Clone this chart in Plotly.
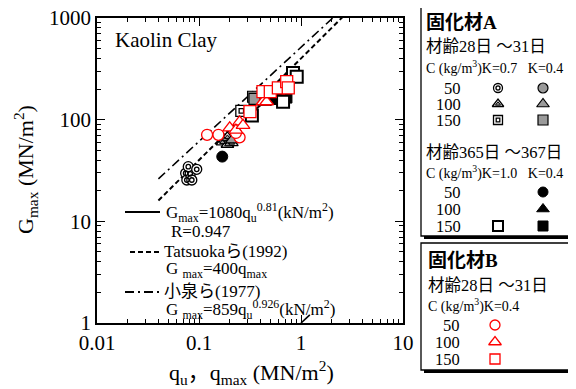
import numpy as np
import plotly.graph_objects as go

# ---------------- data ----------------
# 固化材A 材齢28日～31日, K=0.7
a28_k07_50_q = [0.074, 0.076, 0.082, 0.085, 0.0785, 0.095]
a28_k07_50_g = [29.7, 25.5, 29.3, 25.5, 34.5, 32.5]
a28_k07_100_q = [0.17, 0.18, 0.19, 0.20, 0.21, 0.19]
a28_k07_100_g = [60, 64, 57, 62, 59, 67]
a28_k07_150_q = [0.26]
a28_k07_150_g = [122]
# 固化材A 材齢28日～31日, K=0.4
a28_k04_50_q = [0.19]
a28_k04_50_g = [61]
a28_k04_100_q = [0.21]
a28_k04_100_g = [63]
a28_k04_150_q = [0.339, 0.35]
a28_k04_150_g = [168, 160]
# 固化材A 材齢365日～367日
a365_k10_150_q = [0.33, 0.667, 0.835, 0.908]
a365_k10_150_g = [110, 150, 288, 265]
a365_k04_50_q = [0.169]
a365_k04_50_g = [43.3]
a365_k04_100_q = [0.44, 0.50, 0.55]
a365_k04_100_g = [148, 152, 155]
a365_k04_150_q = [0.58, 0.65, 0.72, 0.70]
a365_k04_150_g = [160, 158, 165, 185]
# 固化材B 材齢28日～31日, K=0.4
b_50_q = [0.12, 0.155, 0.25, 0.23]
b_50_g = [71, 71, 67, 74]
b_100_q = [0.20, 0.25, 0.23, 0.424, 0.46, 0.27]
b_100_g = [83, 95, 79, 150, 150, 88]
b_150_q = [0.316, 0.424, 0.50, 0.60, 0.724, 0.75]
b_150_g = [120, 189, 189, 205, 237, 205]

# reference lines
fit_q = [0.30, 0.75]            # Gmax = 1080 qu^0.81 (kN/m2)
tatsuoka_q = [0.04, 3.0]        # Gmax = 400 qmax
koizumi_q = [0.04, 3.0]         # Gmax = 859 qu^0.926 (kN/m2)
mark_q = [1.0, 1.22]
mark_g = [1.0, 1.2]

x_ticks = [0.01, 0.1, 1, 10]
x_ticklabels = ["0.01", "0.1", "1", "10"]
y_ticks = [1, 10, 100, 1000]
y_ticklabels = ["1", "10", "100", "1000"]

SERIF = "Liberation Serif, Noto Sans CJK JP"
RED = "#ff0000"
GRAY = "#9a9a9a"

fig = go.Figure()

def fit(q):
    q = np.asarray(q)
    return 1080 * (q * 1000) ** 0.81 / 1000

def tats(q):
    return 400 * np.asarray(q)

def koiz(q):
    q = np.asarray(q)
    return 859 * (q * 1000) ** 0.926 / 1000

# lines
fig.add_trace(go.Scatter(x=fit_q, y=fit(fit_q), mode="lines",
                         line=dict(color="black", width=2)))
fig.add_trace(go.Scatter(x=tatsuoka_q, y=tats(tatsuoka_q), mode="lines",
                         line=dict(color="black", width=2, dash="5px,3px")))
fig.add_trace(go.Scatter(x=koizumi_q, y=koiz(koizumi_q), mode="lines",
                         line=dict(color="black", width=1.6, dash="9px,4px,2px,4px")))
fig.add_trace(go.Scatter(x=mark_q, y=mark_g, mode="lines",
                         line=dict(color="black", width=1.6)))

def pts(x, y, symbol, size, fill, lc, lw, xa="x", ya="y"):
    fig.add_trace(go.Scatter(x=x, y=y, mode="markers", xaxis=xa, yaxis=ya,
                             marker=dict(symbol=symbol, size=size, color=fill,
                                         line=dict(color=lc, width=lw))))

def double_circle(x, y, xa="x", ya="y", s=10):
    pts(x, y, "circle", s, "white", "black", 1.3, xa, ya)
    pts(x, y, "circle-open", s * 0.45, "black", "black", 1.3, xa, ya)

def double_tri(x, y, xa="x", ya="y", s=11):
    pts(x, y, "triangle-up", s, "white", "black", 1.3, xa, ya)
    pts(x, y, "triangle-up", s * 0.45, GRAY, "black", 1.0, xa, ya)

def double_sq(x, y, xa="x", ya="y", s=10):
    pts(x, y, "square", s, "white", "black", 1.3, xa, ya)
    pts(x, y, "square-open", s * 0.4, "black", "black", 1.3, xa, ya)

# data markers
double_circle(a28_k07_50_q, a28_k07_50_g)
pts(a28_k04_50_q, a28_k04_50_g, "circle", 10, GRAY, "black", 1.2)
double_tri(a28_k07_100_q, a28_k07_100_g)
pts(a28_k04_100_q, a28_k04_100_g, "triangle-up", 11, GRAY, "black", 1.2)
pts(a365_k04_50_q, a365_k04_50_g, "circle", 11, "black", "black", 1)
pts(a28_k04_150_q, a28_k04_150_g, "square", 11, GRAY, "black", 1.2)
pts(a365_k04_100_q, a365_k04_100_g, "triangle-up", 12, "black", "black", 1)
pts(a365_k04_150_q, a365_k04_150_g, "square", 11, "black", "black", 1)
pts(a365_k10_150_q, a365_k10_150_g, "square", 12, "white", "black", 2)
double_sq(a28_k07_150_q, a28_k07_150_g, s=11)
pts(b_50_q, b_50_g, "circle", 11, "white", RED, 1.3)
pts(b_100_q, b_100_g, "triangle-up", 12, "white", RED, 1.3)
pts(b_150_q, b_150_g, "square", 12, "white", RED, 1.3)

# ---------------- legend (screen-pixel coordinates on x2/y2) ----------------
C1, C2 = 498, 543
double_circle([C1], [88], "x2", "y2", 9)
pts([C2], [88], "circle", 10, GRAY, "black", 1.2, "x2", "y2")
double_tri([C1], [104], "x2", "y2", 10)
pts([C2], [104], "triangle-up", 11, GRAY, "black", 1.2, "x2", "y2")
double_sq([C1], [120], "x2", "y2", 9)
pts([C2], [120], "square", 10, GRAY, "black", 1.2, "x2", "y2")
pts([C2], [192], "circle", 10, "black", "black", 1, "x2", "y2")
pts([C2], [209], "triangle-up", 11, "black", "black", 1, "x2", "y2")
pts([C1], [226], "square", 10, "white", "black", 2, "x2", "y2")
pts([C2], [226], "square", 10, "black", "black", 1, "x2", "y2")
pts([495], [325], "circle", 10, "white", RED, 1.3, "x2", "y2")
pts([495], [342], "triangle-up", 11, "white", RED, 1.3, "x2", "y2")
pts([495], [359], "square", 10, "white", RED, 1.3, "x2", "y2")

shapes = []
for (x0, y0, x1, y1) in [(421, 5, 569, 236), (421, 243, 569, 370)]:
    shapes.append(dict(type="rect", xref="x2", yref="y2", x0=x0 + 3, y0=y0 + 3,
                       x1=x1 + 3, y1=y1 + 3, fillcolor="black",
                       line=dict(width=0), layer="below"))
    shapes.append(dict(type="rect", xref="x2", yref="y2", x0=x0, y0=y0,
                       x1=x1, y1=y1, fillcolor="white",
                       line=dict(color="black", width=1.3), layer="below"))
# line samples in the plot legend
shapes.append(dict(type="line", xref="x2", yref="y2", x0=125, x1=160, y0=212, y1=212,
                   line=dict(color="black", width=2)))
shapes.append(dict(type="line", xref="x2", yref="y2", x0=130, x1=160, y0=252, y1=252,
                   line=dict(color="black", width=2, dash="5px,3px")))
shapes.append(dict(type="line", xref="x2", yref="y2", x0=125, x1=160, y0=292, y1=292,
                   line=dict(color="black", width=2, dash="9px,4px,2px,4px")))

ann = []
def txt(x, y, s, size, xanchor="left", angle=0):
    ann.append(dict(x=x, y=y, xref="x2", yref="y2", text=s, showarrow=False,
                    xanchor=xanchor, yanchor="middle", textangle=angle,
                    font=dict(family=SERIF, size=size, color="black")))

txt(113, 40, "Kaolin Clay", 21)
txt(164, 212, "G<sub>max</sub>=1080q<sub>u</sub><sup>0.81</sup>(kN/m<sup>2</sup>)", 17)
txt(169, 231, "R=0.947", 17)
txt(162, 251, "Tatsuokaら(1992)", 17)
txt(164, 270, "G <sub>max</sub>=400q<sub>max</sub>", 17)
txt(162, 291, "小泉ら(1977)", 17)
txt(164, 309, "G <sub>max</sub>=859q<sub>u</sub><sup>0.926</sup>(kN/m<sup>2</sup>)", 17)

txt(25, 170, "G<sub>max</sub> (MN/m<sup>2</sup>)", 22, "center", angle=-90)
txt(251, 372, "q<sub>u</sub>，q<sub>max</sub> (MN/m<sup>2</sup>)", 22, "center")

txt(424, 22, "<b>固化材A</b>", 19)
txt(424, 46, "材齢28日 ～31日", 16.5)
txt(424, 67, "C (kg/m<sup>3</sup>)K=0.7   K=0.4", 14)
txt(424, 152, "材齢365日 ～367日", 16.5)
txt(424, 172, "C (kg/m<sup>3</sup>)K=1.0   K=0.4", 14)
for yy, lab in [(88, "50"), (104, "100"), (120, "150"), (192, "50"), (209, "100"), (226, "150")]:
    txt(463, yy, lab, 16.5, "right")
txt(426, 260, "<b>固化材B</b>", 19)
txt(426, 285, "材齢28日 ～31日", 16.5)
txt(426, 305, "C (kg/m<sup>3</sup>)K=0.4", 14)
for yy, lab in [(325, "50"), (342, "100"), (359, "150")]:
    txt(462, yy, lab, 16.5, "right")

# the page body has an 8px margin, so the figure is 8px smaller and
# layout positions are measured from the window corner
OFF = 8
SW, SH = 576, 389
W, H = SW - OFF, SH - OFF
axis_common = dict(showline=True, linecolor="black", linewidth=1.6, mirror="ticks",
                   ticks="inside", ticklen=8, tickwidth=1.2, tickcolor="black",
                   showgrid=False, zeroline=False, automargin=False,
                   ticklabeloverflow="allow",
                   tickfont=dict(family=SERIF, size=21, color="black"),
                   minor=dict(ticks="inside", ticklen=4, tickwidth=1, tickcolor="black",
                              dtick="D1", showgrid=False))

fig.update_layout(
    width=W, height=H, showlegend=False,
    margin=dict(l=0, r=0, t=0, b=0),
    paper_bgcolor="white", plot_bgcolor="rgba(0,0,0,0)",
    xaxis=dict(type="log", range=[-2, 1], domain=[(97 - OFF) / W, (403 - OFF) / W],
               anchor="y", tickvals=x_ticks, ticktext=x_ticklabels, **axis_common),
    yaxis=dict(type="log", range=[0, 3], domain=[(SH - 323) / H, (SH - 18) / H],
               anchor="x", tickvals=y_ticks, ticktext=y_ticklabels, **axis_common),
    xaxis2=dict(range=[OFF, SW], domain=[0, 1], visible=False, anchor="y2",
                fixedrange=True, automargin=False),
    yaxis2=dict(range=[SH, OFF], domain=[0, 1], visible=False, anchor="x2",
                fixedrange=True, automargin=False),
    shapes=shapes, annotations=ann,
)

fig.write_html("out.html")
